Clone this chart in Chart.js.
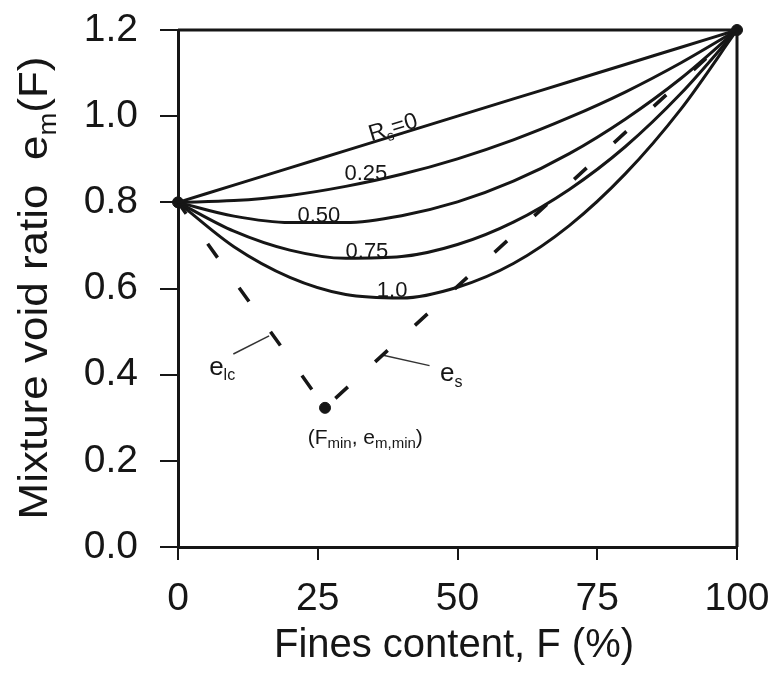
<!DOCTYPE html>
<html>
<head>
<meta charset="utf-8">
<script src="https://cdn.jsdelivr.net/npm/chart.js@4/dist/chart.umd.min.js"></script>
<style>
  html, body { margin: 0; padding: 0; background: #fff; }
  canvas { display: block; }
</style>
</head>
<body>
<canvas id="chart" width="773" height="681"></canvas>
<script>
// values
const fines = [0, 10, 20, 30, 40, 50, 60, 70, 80, 90, 100];
const eR000 = [0.800, 0.840, 0.880, 0.920, 0.960, 1.000, 1.040, 1.080, 1.120, 1.160, 1.200];
const eR025 = [0.800, 0.804, 0.816, 0.837, 0.865, 0.901, 0.945, 0.997, 1.056, 1.124, 1.200];
const eR050 = [0.800, 0.768, 0.753, 0.753, 0.769, 0.801, 0.849, 0.913, 0.993, 1.088, 1.200];
const eR075 = [0.800, 0.733, 0.689, 0.670, 0.674, 0.702, 0.754, 0.830, 0.929, 1.053, 1.200];
const eR100 = [0.800, 0.697, 0.626, 0.586, 0.578, 0.603, 0.658, 0.746, 0.866, 1.017, 1.200];

const minPoint = [26.3, 0.323];           // (F_min, e_m,min)
const endPoints = [[0, 0.8], [100, 1.2]];
const eLcLine = [[0, 0.8], minPoint];
const eSLine = [minPoint, [100, 1.2]];
const leaderLc = [[9.9, 0.448], [16.3, 0.490]];
const leaderS = [[36.3, 0.446], [45.0, 0.421]];

const xTicks = [0, 25, 50, 75, 100];
const yTicks = [0, 0.2, 0.4, 0.6, 0.8, 1.0, 1.2];

const INK = '#161616';
const FONT = '"Liberation Sans", Arial, sans-serif';

// small labels, anchored in data units
const notes = [
  { parts: [['R'], ['s', 1], ['=0']], F: 38.4, e: 0.977, size: 23, angle: -17 },
  { parts: [['0.25']], F: 33.6, e: 0.870, size: 22 },
  { parts: [['0.50']], F: 25.2, e: 0.773, size: 22 },
  { parts: [['0.75']], F: 33.8, e: 0.689, size: 22 },
  { parts: [['1.0']], F: 38.3, e: 0.599, size: 22 },
  { parts: [['e'], ['lc', 1]], F: 7.9, e: 0.422, size: 26 },
  { parts: [['e'], ['s', 1]], F: 48.9, e: 0.406, size: 26 },
  { parts: [['(F'], ['min', 1], [', e'], ['m,min', 1], [')']], F: 33.5, e: 0.257, size: 21, sub: 0.72 }
];

const pts = (xs, ys) => xs.map((f, i) => ({ x: f, y: ys[i] }));
const pairs = arr => arr.map(p => ({ x: p[0], y: p[1] }));

function drawRich(ctx, parts, cx, cy, size, angle, stretch, subRatio) {
  ctx.save();
  ctx.translate(cx, cy);
  ctx.rotate((angle || 0) * Math.PI / 180);
  if (stretch) ctx.scale(stretch, 1);
  const subSize = Math.round(size * (subRatio || 0.62));
  let total = 0;
  const widths = parts.map(([t, sub]) => {
    ctx.font = `${sub ? subSize : size}px ${FONT}`;
    const w = ctx.measureText(t).width;
    total += w;
    return w;
  });
  let px = -total / 2;
  const base = size * 0.36;
  ctx.fillStyle = INK;
  ctx.textAlign = 'left';
  ctx.textBaseline = 'alphabetic';
  parts.forEach(([t, sub], i) => {
    ctx.font = `${sub ? subSize : size}px ${FONT}`;
    ctx.fillText(t, px, sub ? base + size * 0.22 : base);
    px += widths[i];
  });
  ctx.restore();
}

const decorPlugin = {
  id: 'decor',
  afterDraw(chart) {
    const { ctx, chartArea: a, scales: { x, y } } = chart;
    ctx.save();
    ctx.strokeStyle = INK;
    ctx.lineWidth = 3;
    ctx.beginPath();
    ctx.moveTo(a.left, a.top);
    ctx.lineTo(a.right, a.top);
    ctx.lineTo(a.right, a.bottom);
    ctx.stroke();
    ctx.restore();

    notes.forEach(n => drawRich(ctx, n.parts, x.getPixelForValue(n.F), y.getPixelForValue(n.e), n.size, n.angle, 0, n.sub));

    // axis titles
    drawRich(ctx, [['Mixture void ratio  e'], ['m', 1], ['(F)']], 33, 288, 40, -90, 1.1);
    drawRich(ctx, [['Fines content, F (%)']], 454, 643, 40, 0);
  }
};

const curve = (data) => ({
  data: pts(fines, data),
  borderColor: INK,
  borderWidth: 3,
  pointRadius: 0,
  cubicInterpolationMode: 'monotone',
  clip: false
});

const dashed = (data, offset) => ({
  data: pairs(data),
  borderColor: INK,
  borderWidth: 3.5,
  borderDash: [17, 37],
  borderDashOffset: offset,
  pointRadius: 0,
  clip: false
});

const leader = (data) => ({
  data: pairs(data),
  borderColor: '#333',
  borderWidth: 1.5,
  pointRadius: 0,
  clip: false
});

new Chart(document.getElementById('chart'), {
  type: 'line',
  data: {
    datasets: [
      curve(eR000), curve(eR025), curve(eR050), curve(eR075), curve(eR100),
      dashed(eLcLine, 3), dashed(eSLine, 40),
      leader(leaderLc), leader(leaderS),
      {
        data: pairs(endPoints.concat([minPoint])),
        showLine: false,
        pointRadius: 5.5,
        pointBackgroundColor: INK,
        pointBorderColor: INK,
        clip: false
      }
    ]
  },
  options: {
    responsive: false,
    animation: false,
    devicePixelRatio: 1,
    layout: { padding: { top: 30, right: 36, left: 0, bottom: 0 } },
    plugins: { legend: { display: false }, tooltip: { enabled: false } },
    scales: {
      x: {
        type: 'linear',
        min: 0,
        max: 100,
        afterBuildTicks: s => { s.ticks = xTicks.map(v => ({ value: v })); },
        afterFit: s => { s.height = 134; s.paddingLeft = 0; s.paddingRight = 0; },
        border: { display: true, color: INK, width: 3 },
        grid: { drawOnChartArea: false, drawTicks: true, tickLength: 13, color: INK, lineWidth: 2 },
        ticks: { color: INK, font: { family: FONT, size: 39 }, padding: 16, maxRotation: 0 }
      },
      y: {
        type: 'linear',
        min: 0,
        max: 1.2,
        afterBuildTicks: s => { s.ticks = yTicks.map(v => ({ value: v })); },
        afterFit: s => { s.width = 178; s.paddingTop = 0; s.paddingBottom = 0; },
        border: { display: true, color: INK, width: 3 },
        grid: { drawOnChartArea: false, drawTicks: true, tickLength: 18, color: INK, lineWidth: 2 },
        ticks: { color: INK, font: { family: FONT, size: 39 }, padding: 22, callback: v => v.toFixed(1) }
      }
    }
  },
  plugins: [decorPlugin]
});
</script>
</body>
</html>
